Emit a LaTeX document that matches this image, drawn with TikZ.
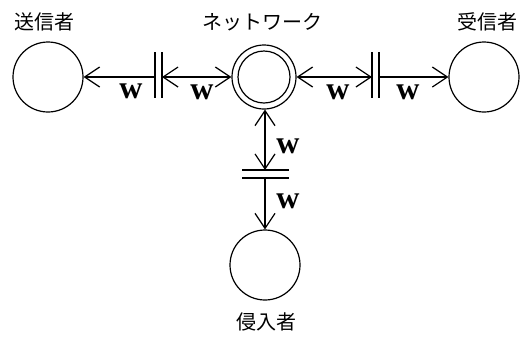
\documentclass[tikz,border=0pt]{standalone}
\usepackage{fontspec}
\setmainfont{Liberation Serif}
\newfontfamily\cjk{Noto Sans CJK JP}
\usetikzlibrary{arrows.meta}
\begin{document}
\begin{tikzpicture}[x=1bp,y=-1bp,
  party/.style={circle,draw,line width=1.2bp,minimum size=70bp,inner sep=0pt},
  netout/.style={circle,draw,line width=1.2bp,minimum size=64bp,inner sep=0pt},
  netin/.style={circle,draw,line width=1.2bp,minimum size=52bp,inner sep=0pt},
  lbl/.style={font=\cjk\fontsize{20bp}{23bp}\selectfont,inner sep=0pt},
  wl/.style={font=\bfseries\fontsize{32bp}{34bp}\selectfont,inner sep=0pt},
  wire/.style={line width=1.2bp},
  tipped/.style={wire,-{Straight Barb[length=15bp,width=20bp,line width=1.2bp]}},
  dtipped/.style={wire,{Straight Barb[length=15bp,width=20bp,line width=1.2bp]}-{Straight Barb[length=15bp,width=20bp,line width=1.2bp]}},
  bar/.style={line width=1.4bp}]
\useasboundingbox (0,0) rectangle (525,336);
% parties
\node[party] (s) at (48,77) {};
\node[netout] (n) at (264,77) {};
\node[netin] (ni) at (n) {};
\node[party] (r) at (484,77) {};
\node[party] (i) at (265,265) {};
% labels
\node[lbl] (ls) at (44,22) {送信者};
\node[lbl] (ln) at (262,22) {ネットワーク};
\node[lbl] (lr) at (487,22) {受信者};
\node[lbl] (li) at (266,322) {侵入者};
% barriers
\coordinate (b1t) at (155,52); \coordinate (b1b) at (155,98);
\coordinate (b2t) at (162,52); \coordinate (b2b) at (162,98);
\coordinate (b3t) at (372,52); \coordinate (b3b) at (372,98);
\coordinate (b4t) at (379,52); \coordinate (b4b) at (379,98);
\coordinate (b5l) at (242,170); \coordinate (b5r) at (289,170);
\coordinate (b6l) at (242,178); \coordinate (b6r) at (289,178);
\draw[bar] (b1t) -- (b1b);
\draw[bar] (b2t) -- (b2b);
\draw[bar] (b3t) -- (b3b);
\draw[bar] (b4t) -- (b4b);
\draw[bar] (b5l) -- (b5r);
\draw[bar] (b6l) -- (b6r);
% arrow anchors
\coordinate (a1) at (155,77);
\coordinate (a2) at (162,77);
\coordinate (a3) at (372,77);
\coordinate (a4) at (379,77);
\coordinate (a5) at (265,170);
\coordinate (a6) at (265,178);
\draw[tipped] (a1) -- (s.east);
\draw[dtipped] (a2) -- (n.west);
\draw[dtipped] (n.east) -- (a3);
\draw[tipped] (a4) -- (r.west);
\draw[dtipped] (n.south -| a5) -- (a5);
\draw[tipped] (a6) -- (i.north);
% w labels
\node[wl] (w1) at (131,91) {w};
\node[wl] (w2) at (202,92) {w};
\node[wl] (w3) at (338,92) {w};
\node[wl] (w4) at (408,92) {w};
\node[wl] (w5) at (288,146) {w};
\node[wl] (w6) at (288,201) {w};
\end{tikzpicture}
\end{document}
